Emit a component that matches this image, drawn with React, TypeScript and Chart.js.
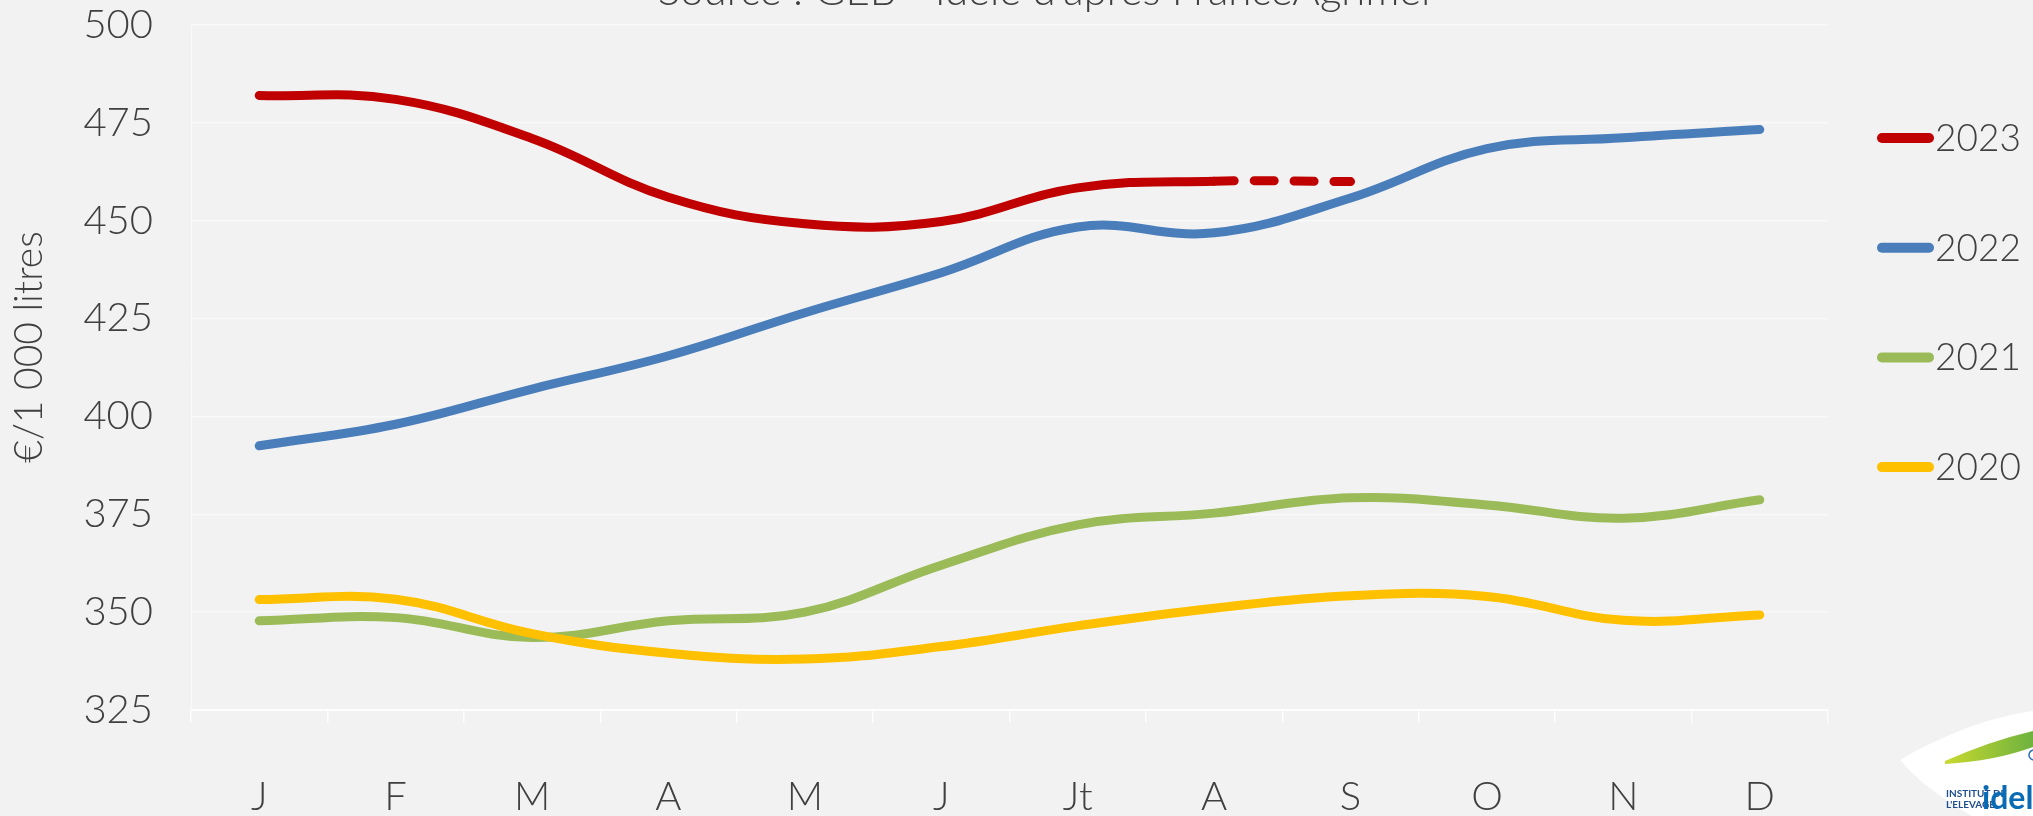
import React, { useEffect, useRef } from 'react';
import { Chart, registerables } from 'chart.js';

Chart.register(...registerables);

// ---------- data ----------
const months = ['J', 'F', 'M', 'A', 'M', 'J', 'Jt', 'A', 'S', 'O', 'N', 'D'];
const series2023 = [482, 481, 471, 456, 449.2, 449.8, 458.4, 460.1, 460, null, null, null];
const series2022 = [392.5, 398, 407, 415.5, 426.5, 436.7, 448.4, 446.9, 455.8, 468.4, 471.2, 473.3];
const series2021 = [347.8, 348.6, 343.5, 347.8, 350, 362, 372.3, 375.3, 379.2, 377.4, 374, 378.7];
const series2020 = [353.2, 353.3, 344.5, 339.5, 338, 341.2, 346.5, 351, 354.2, 354, 347.9, 349.3];
const seriesLabels = ['2023', '2022', '2021', '2020'];
const seriesColors = ['#C00000', '#4A7EBB', '#9BBB59', '#FFC000'];
const yMin = 325;
const yMax = 500;
const yStep = 25;
const provisionalFromIndex = 7; // 2023: segment A -> S is provisional (dashed)
const sourceText = "Source : GEB - Idele d'après FranceAgrimer";
const yAxisTitle = '€/1 000 litres';
const logoLine1 = 'INSTITUT DE';
const logoLine2 = "L'ELEVAGE";
const logoWord = 'idele';

const FONT = "Lato, 'Noto Sans', 'DejaVu Sans', sans-serif";
const TEXT = '#404040';

const decorPlugin = {
  id: 'decor',
  afterDraw(chart: any) {
    const ctx = chart.ctx as CanvasRenderingContext2D;
    ctx.save();

    // source line (cut off at the top)
    ctx.fillStyle = TEXT;
    ctx.font = `300 42px ${FONT}`;
    ctx.textAlign = 'center';
    ctx.textBaseline = 'alphabetic';
    ctx.fillText(sourceText, 1047, 5);

    // y axis title
    ctx.save();
    ctx.translate(29, 347);
    ctx.rotate(-Math.PI / 2);
    ctx.textAlign = 'center';
    ctx.textBaseline = 'middle';
    ctx.font = `300 39px ${FONT}`;
    ctx.fillText(yAxisTitle, 0, 0);
    ctx.restore();

    // legend
    chart.data.datasets.forEach((ds: any, i: number) => {
      const y = 138 + i * 109.7;
      ctx.strokeStyle = ds.borderColor;
      ctx.lineWidth = 10;
      ctx.lineCap = 'round';
      ctx.setLineDash([]);
      ctx.beginPath();
      ctx.moveTo(1882, y);
      ctx.lineTo(1929, y);
      ctx.stroke();
      ctx.fillStyle = TEXT;
      ctx.font = `300 37px ${FONT}`;
      ctx.textAlign = 'left';
      ctx.textBaseline = 'middle';
      ctx.fillText(ds.label, 1935, y + 1);
    });

    // logo (bottom right)
    ctx.fillStyle = '#ffffff';
    ctx.beginPath();
    ctx.moveTo(1900, 760);
    ctx.bezierCurveTo(1945, 733, 1995, 716, 2033, 711);
    ctx.lineTo(2033, 816);
    ctx.lineTo(1972, 816);
    ctx.bezierCurveTo(1940, 798, 1915, 778, 1900, 760);
    ctx.closePath();
    ctx.fill();

    const grad = ctx.createLinearGradient(1945, 0, 2033, 0);
    grad.addColorStop(0, '#c8d92e');
    grad.addColorStop(1, '#6fb23f');
    ctx.fillStyle = grad;
    ctx.beginPath();
    ctx.moveTo(1945, 761);
    ctx.quadraticCurveTo(1990, 741, 2033, 731);
    ctx.lineTo(2033, 747);
    ctx.quadraticCurveTo(1995, 761, 1945, 764);
    ctx.closePath();
    ctx.fill();

    ctx.strokeStyle = '#2a6db5';
    ctx.lineWidth = 1.5;
    ctx.beginPath();
    ctx.arc(2034, 755, 5, Math.PI * 0.6, Math.PI * 1.4);
    ctx.stroke();

    ctx.fillStyle = '#1d4f91';
    ctx.textAlign = 'left';
    ctx.textBaseline = 'alphabetic';
    ctx.font = `bold 10px ${FONT}`;
    ctx.fillText(logoLine1, 1946, 797);
    ctx.fillText(logoLine2, 1946, 808);
    ctx.fillStyle = '#0a6bb5';
    ctx.font = `bold 32px ${FONT}`;
    ctx.fillText(logoWord, 1982, 809);

    ctx.restore();
  },
};

export default function App() {
  const canvasRef = useRef<HTMLCanvasElement | null>(null);

  useEffect(() => {
    document.body.style.margin = '0';
    document.body.style.background = '#f2f2f2';
    const canvas = canvasRef.current;
    if (!canvas) return;

    const data = [series2023, series2022, series2021, series2020];
    const orders = [0, 1, 3, 2];

    const chart = new Chart(canvas, {
      type: 'line',
      data: {
        labels: months,
        datasets: data.map((values, i) => ({
          label: seriesLabels[i],
          data: values,
          borderColor: seriesColors[i],
          backgroundColor: seriesColors[i],
          borderWidth: 9,
          borderCapStyle: 'round',
          borderJoinStyle: 'round',
          pointRadius: 0,
          pointHoverRadius: 0,
          tension: 0.4,
          fill: false,
          order: orders[i],
          segment:
            i === 0
              ? {
                  borderDash: (c: any) => (c.p0DataIndex >= provisionalFromIndex ? [20, 20] : undefined),
                }
              : undefined,
        })),
      },
      plugins: [decorPlugin],
      options: {
        responsive: false,
        animation: false,
        layout: { padding: { top: 25, right: 205, bottom: 0, left: 0 } },
        plugins: {
          legend: { display: false },
          title: { display: false },
          tooltip: { enabled: false },
        },
        scales: {
          x: {
            type: 'category',
            offset: true,
            grid: {
              display: true,
              offset: true,
              drawOnChartArea: false,
              drawTicks: true,
              tickLength: 13,
              color: 'rgba(255,255,255,0.8)',
              lineWidth: 1.5,
            },
            border: { display: true, color: 'rgba(255,255,255,0.8)', width: 2 },
            ticks: {
              color: TEXT,
              font: { family: FONT, size: 40, weight: '300' as any },
              padding: 50,
              autoSkip: false,
              maxRotation: 0,
              minRotation: 0,
            },
            afterFit: (s: any) => {
              s.height = 106;
              s.paddingLeft = 0;
              s.paddingRight = 0;
            },
          },
          y: {
            min: yMin,
            max: yMax,
            grid: {
              color: 'rgba(255,255,255,0.55)',
              lineWidth: 1.5,
              drawTicks: false,
            },
            border: { display: true, color: 'rgba(255,255,255,0.6)', width: 1 },
            ticks: {
              stepSize: yStep,
              color: TEXT,
              font: { family: FONT, size: 40, weight: '300' as any },
              padding: 38,
            },
            afterFit: (s: any) => {
              s.width = 191;
              s.paddingTop = 0;
              s.paddingBottom = 0;
            },
          },
        },
      },
    });

    return () => chart.destroy();
  }, []);

  return (
    <div
      style={{
        position: 'absolute',
        left: 0,
        top: 0,
        width: 2033,
        height: 816,
        background: '#f2f2f2',
        overflow: 'hidden',
      }}
    >
      <canvas ref={canvasRef} width={2033} height={816} style={{ display: 'block' }} />
    </div>
  );
}
